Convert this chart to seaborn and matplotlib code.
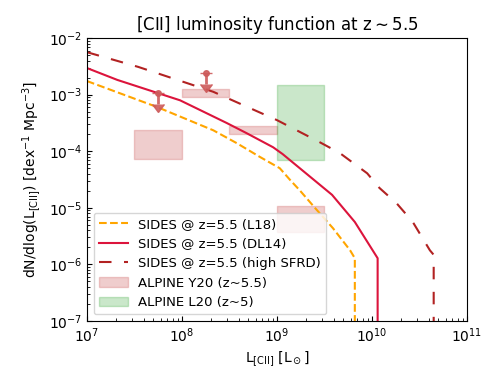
import numpy as np
import pandas as pd
import matplotlib
matplotlib.use("Agg")
import matplotlib.pyplot as plt
import seaborn as sns

# log10 L[CII] and log10 phi
l18_logL = [7.0, 7.74, 8.33, 8.58, 8.82, 9.03, 9.14, 9.24, 9.40, 9.59, 9.77, 9.82, 9.82]
l18_logphi = [-2.76, -3.22, -3.63, -3.86, -4.10, -4.30, -4.51, -4.69, -5.00, -5.36, -5.75, -5.89, -8.0]

dl14_logL = [7.0, 7.32, 7.98, 8.47, 8.68, 8.96, 9.06, 9.58, 9.82, 10.06, 10.06]
dl14_logphi = [-2.53, -2.74, -3.10, -3.50, -3.68, -3.93, -4.05, -4.77, -5.25, -5.89, -8.0]

hsfrd_logL = [7.0, 7.54, 8.33, 9.0, 9.45, 9.66, 9.95, 10.08, 10.26, 10.43, 10.61, 10.65, 10.65]
hsfrd_logphi = [-2.25, -2.51, -2.95, -3.45, -3.84, -4.03, -4.39, -4.65, -4.92, -5.25, -5.75, -5.83, -8.0]

# ALPINE Y20 boxes (log L range, log phi range)
y20_logL = [(7.5, 8.0), (8.0, 8.5), (8.5, 9.0), (9.0, 9.5)]
y20_logphi = [(-4.14, -3.63), (-3.04, -2.90), (-3.70, -3.55), (-5.43, -4.97)]
# ALPINE Y20 upper limits
lim_logL = [7.75, 8.25]
lim_logphi = [-2.97, -2.62]
# ALPINE L20 box
l20_logL = (9.0, 9.5)
l20_logphi = (-4.16, -2.83)


def make_df(logL, logphi, name):
    return pd.DataFrame({'L': 10 ** np.array(logL), 'phi': 10 ** np.array(logphi), 'model': name})


fig, ax = plt.subplots(figsize=(4.91, 3.92), dpi=100)
fig.subplots_adjust(left=0.177, right=0.951, top=0.903, bottom=0.181)

line_kw = dict(x='L', y='phi', lw=1.5, sort=False, estimator=None, errorbar=None)
sns.lineplot(ax=ax, data=make_df(l18_logL, l18_logphi, 'L18'), color='orange',
             linestyle='--', label='SIDES @ z=5.5 (L18)', **line_kw)
sns.lineplot(ax=ax, data=make_df(dl14_logL, dl14_logphi, 'DL14'), color='crimson',
             label='SIDES @ z=5.5 (DL14)', **line_kw)
sns.lineplot(ax=ax, data=make_df(hsfrd_logL, hsfrd_logphi, 'high'), color='firebrick',
             linestyle=(0, (6, 6)), label='SIDES @ z=5.5 (high SFRD)', **line_kw)

for i, ((x0, x1), (y0, y1)) in enumerate(zip(y20_logL, y20_logphi)):
    ax.fill_between([10 ** x0, 10 ** x1], 10 ** y0, 10 ** y1, color='indianred', alpha=0.3,
                    label='ALPINE Y20 (z~5.5)' if i == 0 else None)

lim_x = 10 ** np.array(lim_logL)
lim_y = 10 ** np.array(lim_logphi)
ax.errorbar(lim_x, lim_y, yerr=0.35 * lim_y, uplims=True, fmt='o', ms=4, color='indianred',
            elinewidth=2, capsize=4, alpha=0.9)

ax.fill_between([10 ** l20_logL[0], 10 ** l20_logL[1]], 10 ** l20_logphi[0], 10 ** l20_logphi[1],
                color='tab:green', alpha=0.25, label='ALPINE L20 (z~5)')

ax.set_xscale('log')
ax.set_yscale('log')
ax.set_xlim(1e7, 1e11)
ax.set_ylim(1e-7, 1e-2)
ax.tick_params(which='both', direction='in')
ax.set_xlabel(r'L$_{\rm [CII]}$ [L$_\odot$]')
ax.set_ylabel(r'dN/dlog(L$_{\rm [CII]}$) [dex$^{-1}$ Mpc$^{-3}$]')
ax.set_title(r'[CII] luminosity function at z$\sim$5.5')
ax.legend(loc='lower left', fontsize=9.5, handlelength=2.2)

fig.savefig('out.png', dpi=100)
